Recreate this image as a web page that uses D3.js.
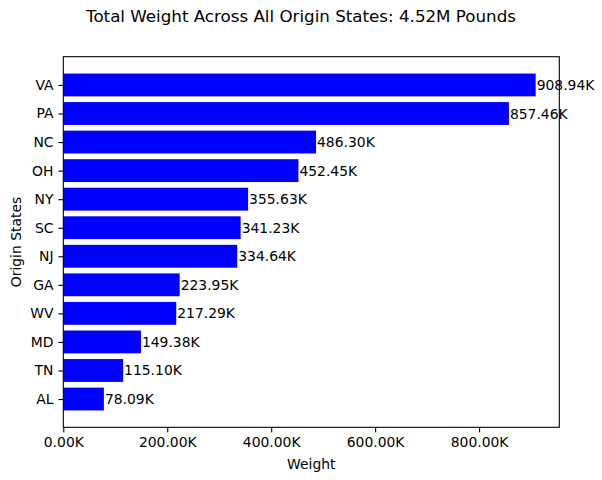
<!DOCTYPE html>
<html><head><meta charset="utf-8">
<script src="https://cdn.jsdelivr.net/npm/d3@7"></script>
<style>body{margin:0;background:#fff}svg{display:block;font-family:"DejaVu Sans",sans-serif}</style>
</head><body><svg id="c" width="602" height="480"></svg>
<script>
const states = ["VA","PA","NC","OH","NY","SC","NJ","GA","WV","MD","TN","AL"];
const weights = [908940,857460,486300,452450,355630,341230,334640,223950,217290,149380,115100,78090];
const xTicks = [0,200000,400000,600000,800000];

const svg = d3.select("#c");
const L=63.3, R=559.3, T=56.7, B=427.3;
const n = states.length;
const maxV = d3.max(weights);
const x = d3.scaleLinear().domain([0, maxV*1.05]).range([L,R]);
// index 0 (largest) at top; position p = n-1-i
const pad = (n-1+0.8)*0.05;
const y = d3.scaleLinear().domain([-0.4-pad, n-1+0.4+pad]).range([B,T]);
const pos = i => n-1-i;
const fmtK = v => (v/1000).toFixed(2)+"K";

const g = svg.append("g");
g.selectAll("rect.bar").data(weights).enter().append("rect")
  .attr("x", x(0)).attr("y", (d,i)=>y(pos(i)+0.4))
  .attr("width", d=>x(d)-x(0)).attr("height", (d,i)=>y(pos(i)-0.4)-y(pos(i)+0.4))
  .attr("fill","#0000ff");

g.selectAll("text.val").data(weights).enter().append("text")
  .attr("x", d=>x(d)+1).attr("y",(d,i)=>y(pos(i)))
  .attr("dy","0.36em").attr("font-size","13.9px").attr("fill","#000")
  .text(d=>fmtK(d));

// axes
const xa = svg.append("g").attr("transform",`translate(0,${B})`)
  .call(d3.axisBottom(x).tickValues(xTicks).tickFormat(fmtK).tickSize(4.9).tickPadding(4.9).tickSizeOuter(0));
const ya = svg.append("g").attr("transform",`translate(${L},0)`)
  .call(d3.axisLeft(y).tickValues(states.map((s,i)=>pos(i))).tickFormat(p=>states[n-1-p]).tickSize(4.9).tickPadding(4.9).tickSizeOuter(0));
[xa,ya].forEach(a=>{a.select(".domain").remove();a.selectAll("text").attr("font-size","13.9px").attr("fill","#000").attr("font-family","DejaVu Sans");a.selectAll("line").attr("stroke","#000").attr("stroke-width",1.1);});

// frame
svg.append("rect").attr("x",L).attr("y",T).attr("width",R-L).attr("height",B-T)
  .attr("fill","none").attr("stroke","#000").attr("stroke-width",1.1);

svg.append("text").attr("x",301).attr("y",22).attr("text-anchor","middle")
  .attr("font-size","16.7px").attr("fill","#000").text("Total Weight Across All Origin States: 4.52M Pounds");
svg.append("text").attr("x",(L+R)/2).attr("y",469).attr("text-anchor","middle")
  .attr("font-size","13.9px").attr("fill","#000").text("Weight");
svg.append("text").attr("transform",`translate(21,${(T+B)/2}) rotate(-90)`).attr("text-anchor","middle")
  .attr("font-size","13.9px").attr("fill","#000").text("Origin States");
</script></body></html>
